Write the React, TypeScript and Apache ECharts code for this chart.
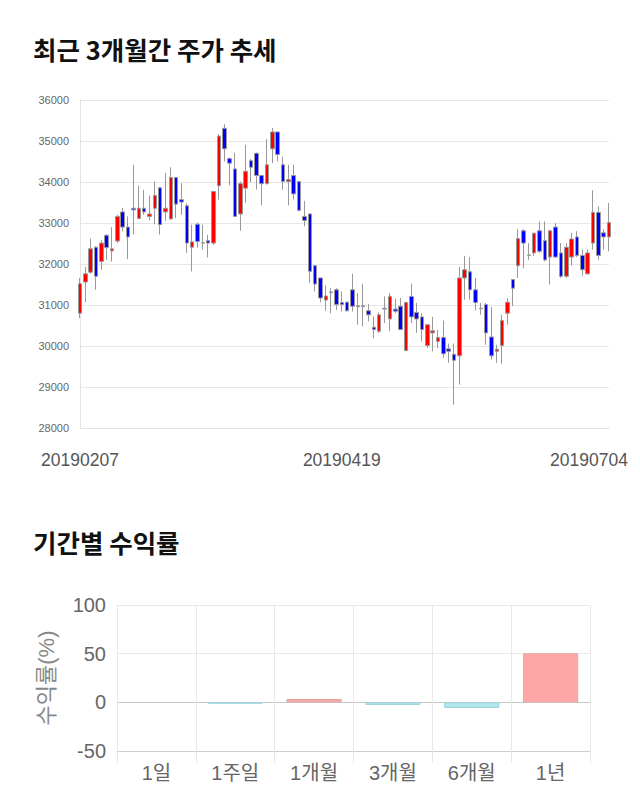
import React, { useEffect, useRef } from "react";
import * as echarts from "echarts";

const dates = [
  "20190207","20190208","20190211","20190212","20190213","20190214","20190215","20190218","20190219","20190220",
  "20190221","20190222","20190225","20190226","20190227","20190228","20190304","20190305","20190306","20190307",
  "20190308","20190312","20190313","20190314","20190315","20190318","20190319","20190320","20190321","20190322",
  "20190325","20190326","20190327","20190328","20190329","20190401","20190402","20190403","20190404","20190405",
  "20190408","20190409","20190410","20190411","20190412","20190415","20190416","20190417","20190418","20190419",
  "20190422","20190423","20190424","20190425","20190426","20190429","20190430","20190502","20190503","20190507",
  "20190508","20190509","20190510","20190513","20190514","20190515","20190516","20190517","20190520","20190521",
  "20190522","20190523","20190524","20190527","20190528","20190529","20190530","20190531","20190603","20190604",
  "20190605","20190610","20190611","20190612","20190613","20190614","20190617","20190618","20190619","20190620",
  "20190621","20190624","20190625","20190626","20190627","20190628","20190701","20190702","20190703","20190704",
];

const opens = [
  30800,31560,31800,32410,32060,32700,32320,32560,33270,32900,
  33360,33110,33360,33160,33360,33860,33270,33100,34110,33570,
  33420,32410,32970,32520,32570,32510,33910,35310,34570,34320,
  33220,33850,34520,34700,34160,33960,34810,35220,34420,34010,
  34160,34010,33160,33220,31960,31660,31120,31320,31370,31060,
  31070,31370,30980,30980,30860,30460,30360,30900,30660,30900,
  30970,29890,31210,30820,30710,30010,30320,30110,30210,29930,
  29800,29760,31660,31810,31370,30920,31010,30220,29870,30010,
  30800,31620,31960,32810,32210,32270,32810,32570,32170,32900,
  32270,31700,32170,32660,32210,31760,32510,33260,32760,32660,
];
const closes = [
  31520,31760,32370,31700,32510,32400,32370,33160,32900,32660,
  33320,33360,33270,33220,33670,32960,33360,34110,33460,33510,
  32510,32540,32550,32510,32510,33770,35120,34810,34460,33160,
  33960,34260,34360,34160,33960,34420,35220,34670,34010,34060,
  33710,33310,33060,31820,31510,31170,31220,31300,31010,31010,
  30860,30970,30960,30960,30760,30400,30760,30920,31210,30850,
  30400,31060,30710,30660,30400,30520,30370,30210,29810,29870,
  29650,31660,31860,31370,31060,30910,30320,29760,29920,30620,
  31070,31410,32620,32510,32220,32750,32310,32100,32810,32170,
  31700,32410,32610,32210,31860,32270,33260,32210,32660,33010,
];
const lows = [
  30680,31070,31760,31370,31860,32100,32060,32510,32800,32120,
  32720,33100,33200,33060,32970,32720,33050,33080,33120,33200,
  32270,31820,32400,32350,32160,32470,33570,34500,33920,33150,
  32810,33490,34000,33810,33430,33940,34460,34500,33810,33430,
  33570,33280,32920,31540,31330,31070,30860,30800,30880,30840,
  30840,30840,30520,30480,30600,30190,30320,30560,30360,30800,
  30390,29870,30560,30320,30110,29950,29870,29950,29710,29590,
  28570,29060,31130,31130,30870,30760,30030,29670,29590,29570,
  30520,30970,31660,31900,32100,32200,32270,32060,31500,32150,
  31660,31660,31960,32170,31710,31740,32350,32100,32350,32310,
];
const highs = [
  31660,31930,32620,32430,32580,32730,32900,33200,33370,33160,
  34420,33910,33810,33670,34010,33870,34220,34360,34120,33970,
  33480,32960,33010,32960,32710,33780,35170,35410,34600,34710,
  34010,34910,34560,34720,34180,35050,35320,35230,34620,34420,
  34420,34030,33540,33240,31970,31670,31480,31410,31410,31330,
  31080,31760,31290,31520,31020,30720,30820,31210,31290,31150,
  31170,31080,31520,31050,30800,30530,30710,30400,30620,30060,
  30060,31930,32200,32170,31660,31050,31050,30950,30030,30760,
  31170,31630,32850,32850,32510,32770,33040,33040,32830,33000,
  32510,32510,32760,32800,32350,32350,33800,33410,32850,33490,
];

const periods = ["1일", "1주일", "1개월", "3개월", "6개월", "1년"];
const returns = [0, -1.4, 3.4, -2.7, -5.8, 50.3];

const labelIdx = [0, 49, 99];

export default function App() {
  const ref = useRef<HTMLDivElement>(null);
  useEffect(() => {
    document.body.style.margin = "0";
    if (!ref.current) return;
    const chart = echarts.init(ref.current, undefined, { renderer: "svg" });
    const candleData = dates.map((_, i) => [opens[i], closes[i], lows[i], highs[i]]);
    const barData = returns.map((v) => ({
      value: v,
      itemStyle:
        v > 0
          ? { color: "#ffa7a7", borderColor: "#e6a3a3", borderWidth: 1 }
          : v < 0
          ? { color: "#b3e7ef", borderColor: "#9fd3dc", borderWidth: 1 }
          : { color: "rgba(0,0,0,0)", borderWidth: 0 },
    }));
    const font = "'Liberation Sans', 'Noto Sans CJK KR', sans-serif";
    const titleStyle = {
      fontSize: 25.5,
      fontWeight: "bold",
      color: "#111",
      fontFamily: "'Noto Sans CJK KR', sans-serif",
    };
    chart.setOption({
      animation: false,
      backgroundColor: "#ffffff",
      title: [
        { text: "최근 3개월간 주가 추세", left: 28, top: 31, textStyle: titleStyle },
        { text: "기간별 수익률", left: 28, top: 524, textStyle: titleStyle },
      ],
      grid: [
        { left: 80, right: 31, top: 100, height: 328 },
        { left: 117, right: 50, top: 605, height: 146 },
      ],
      xAxis: [
        {
          type: "category",
          gridIndex: 0,
          data: dates,
          boundaryGap: false,
          axisLine: { show: true, lineStyle: { color: "#e3e3e3" } },
          axisTick: { show: false },
          splitLine: { show: false },
          axisLabel: {
            interval: (index: number) => labelIdx.includes(index),
            fontSize: 17.5,
            color: "#555",
            fontFamily: font,
            margin: 23,
            formatter: (v: string, index: number) => (index === dates.length - 1 ? "{last|" + v + "}" : v),
            rich: {
              last: { fontSize: 17.5, color: "#555", fontFamily: font, padding: [0, 40, 0, 0] },
            },
          },
        },
        {
          type: "category",
          gridIndex: 1,
          data: periods,
          axisLine: { show: true, onZero: false, lineStyle: { color: "#cfcfcf" } },
          axisTick: { show: true, length: 12, lineStyle: { color: "#e6e6e6" } },
          splitLine: { show: true, lineStyle: { color: "#e8e8e8" } },
          axisLabel: { fontSize: 20, color: "#666", fontFamily: font, margin: 12 },
        },
      ],
      yAxis: [
        {
          type: "value",
          gridIndex: 0,
          min: 28000,
          max: 36000,
          interval: 1000,
          axisLine: { show: true, lineStyle: { color: "#e3e3e3" } },
          axisTick: { show: false },
          splitLine: { lineStyle: { color: "#e6e6e6" } },
          axisLabel: {
            fontSize: 11,
            color: "#666",
            fontFamily: font,
            margin: 11,
            formatter: (v: number) => String(v),
          },
        },
        {
          type: "value",
          gridIndex: 1,
          min: -50,
          max: 100,
          interval: 50,
          name: "수익률(%)",
          nameLocation: "middle",
          nameGap: 60,
          nameTextStyle: { fontSize: 22, color: "#888", fontFamily: font },
          axisLine: { show: false },
          axisTick: { show: false },
          splitLine: { lineStyle: { color: ["#cfcfcf", "#c8c8c8", "#e8e8e8", "#e8e8e8"] } },
          axisLabel: { fontSize: 20, color: "#666", fontFamily: font, margin: 11 },
        },
      ],
      series: [
        {
          type: "candlestick",
          xAxisIndex: 0,
          yAxisIndex: 0,
          data: candleData,
          barWidth: 4,
          itemStyle: {
            color: "#ff0000",
            color0: "#0000ff",
            borderColor: "#999",
            borderColor0: "#999",
            borderColorDoji: "#777",
            borderWidth: 1,
          },
        },
        {
          type: "bar",
          xAxisIndex: 1,
          yAxisIndex: 1,
          data: barData,
          barWidth: "70%",
        },
      ],
    });
    return () => chart.dispose();
  }, []);
  return <div ref={ref} style={{ width: 640, height: 810 }} />;
}
